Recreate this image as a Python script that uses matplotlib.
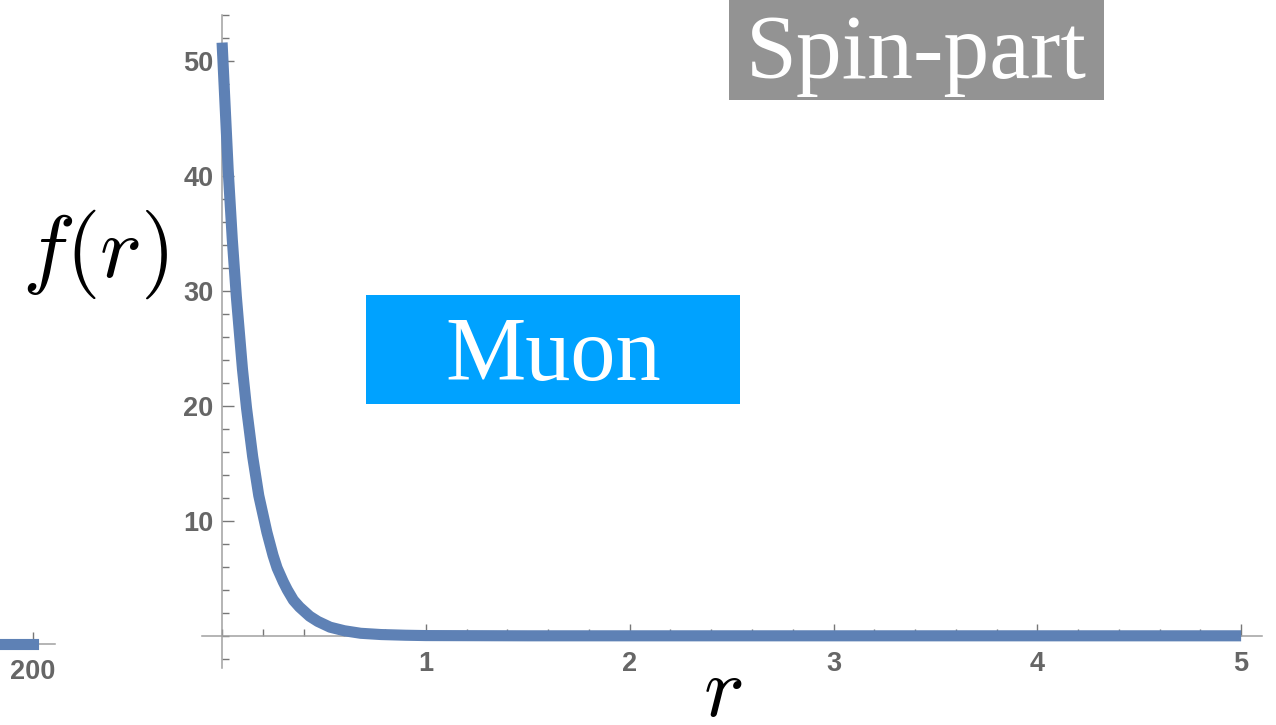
import numpy as np
import matplotlib
matplotlib.use("Agg")
import matplotlib.pyplot as plt
import matplotlib.patches as mpatches
from matplotlib.ticker import MultipleLocator, FixedLocator

# radial profile, values
r_vals = [0.0, 0.03, 0.05, 0.07, 0.10, 0.12, 0.15, 0.18, 0.22, 0.25, 0.27,
          0.30, 0.32, 0.35, 0.38, 0.43, 0.47, 0.53, 0.60, 0.68, 0.78, 0.9,
          1.0, 1.5, 2.0, 3.0, 4.0, 5.0]
f_vals = [51.6, 40.5, 34.5, 29.5, 23.2, 19.8, 15.6, 12.2, 9.0, 7.0, 5.9,
          4.7, 4.0, 3.1, 2.5, 1.7, 1.25, 0.75, 0.44, 0.22, 0.11, 0.05,
          0.02, 0.0, 0.0, 0.0, 0.0, 0.0]

x_major = [1, 2, 3, 4, 5]
y_major = [10, 20, 30, 40, 50]

# tail of the neighbouring panel
tail_x = [170, 200]
tail_y = [0, 0]

W, H = 1276, 725
line_col = "#5e81b5"
axis_col = "#a0a0a0"
label_col = "#666666"

plt.rcParams["font.family"] = "Liberation Sans"
plt.rcParams["font.weight"] = "bold"

fig = plt.figure(figsize=(W / 100, H / 100), dpi=100)

def px_box(x0, y0, x1, y1):
    # pixel box (top-left origin) -> figure fraction rect
    return [x0 / W, 1 - y1 / H, (x1 - x0) / W, (y1 - y0) / H]

def style_axes(a):
    for s in ["top", "right"]:
        a.spines[s].set_visible(False)
    for s in ["left", "bottom"]:
        a.spines[s].set_position(("data", 0))
        a.spines[s].set_color(axis_col)
        a.spines[s].set_linewidth(1.1)
    a.tick_params(which="both", direction="in", color="#777777", width=1.0,
                  labelcolor=label_col)
    a.tick_params(which="major", length=8.6, labelsize=19.5)
    a.tick_params(which="minor", length=5)

ax = fig.add_axes(px_box(201.7, 15, 1261.5, 668))
ax.plot(r_vals, f_vals, color=line_col, lw=8, solid_capstyle="butt",
        clip_on=False, zorder=3)
ax.set_xlim(-0.1, 5.1)
ax.set_ylim(-2.8, 54.0)
ax.xaxis.set_major_locator(FixedLocator(x_major))
ax.yaxis.set_major_locator(FixedLocator(y_major))
ax.xaxis.set_minor_locator(MultipleLocator(0.2))
ax.yaxis.set_minor_locator(MultipleLocator(2))
style_axes(ax)
ax.tick_params(axis="x", which="major", pad=11)
ax.tick_params(axis="y", which="major", pad=6)

# cut-off piece of the panel on the left
ax2 = fig.add_axes(px_box(0, 620, 55, 668))
ax2.plot(tail_x, tail_y, color=line_col, lw=8, solid_capstyle="projecting",
         clip_on=False, zorder=3)
ax2.set_xlim(170, 220)
ax2.set_ylim(-1, 1)
ax2.xaxis.set_major_locator(FixedLocator([200]))
ax2.yaxis.set_major_locator(FixedLocator([]))
style_axes(ax2)
ax2.spines["left"].set_visible(False)
ax2.tick_params(axis="x", which="major", pad=11)
ax2.patch.set_alpha(0)

# axis labels
fig.text(723 / W, 1 - 716 / H, r"$r$", fontsize=62, ha="center",
         va="baseline", math_fontfamily="cm")
fig.text(94.5 / W, 1 - 277 / H, r"$f(r)$", fontsize=64, ha="center",
         va="baseline", math_fontfamily="cm")

# labelled boxes
for (x0, y0, x1, y1), col, txt, base, size in [
        ((729, -5, 1104, 100), "#939393", "Spin-part", 78, 66),
        ((366, 295, 740, 404), "#00a2ff", "Muon", 380, 65)]:
    fig.patches.append(mpatches.Rectangle(
        (x0 / W, 1 - y1 / H), (x1 - x0) / W, (y1 - y0) / H,
        transform=fig.transFigure, facecolor=col, edgecolor="none", zorder=5))
    fig.text((x0 + x1) / 2 / W, 1 - base / H, txt, color="white",
             fontsize=size, family="Liberation Serif", fontweight="normal",
             ha="center", va="baseline", zorder=6)

fig.savefig("out.png", dpi=100)
